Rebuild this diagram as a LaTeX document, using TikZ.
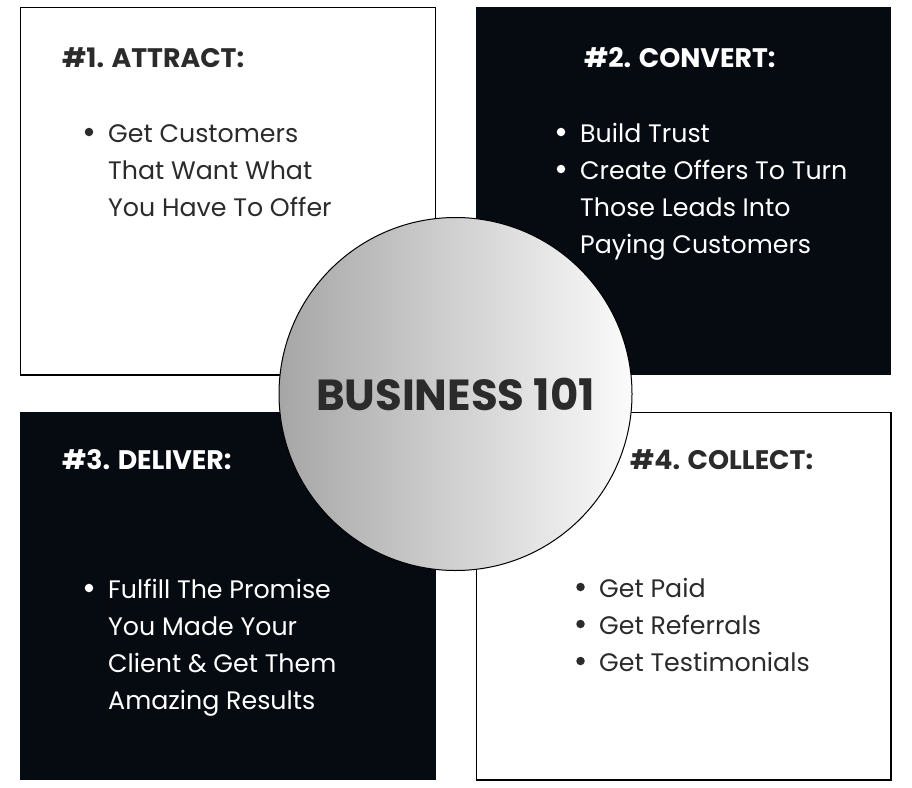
\documentclass[tikz,border=0pt]{standalone}
\usepackage{fontspec}
\setmainfont{Poppins}
\definecolor{ink}{HTML}{060B12}
\definecolor{txt}{HTML}{2B2B2B}
\definecolor{shadeL}{HTML}{A6A6A6}
\definecolor{shadeR}{HTML}{FBFBFB}
\begin{document}
\begin{tikzpicture}[x=1pt,y=-1pt,
  whitebox/.style={draw=black,line width=1.5pt,fill=white},
  blackbox/.style={fill=ink},
  headtxt/.style={anchor=base west,inner sep=0pt,font=\fontsize{26.8}{30}\selectfont\bfseries},
  bodytxt/.style={anchor=base west,inner sep=0pt,font=\fontsize{25.3}{30}\selectfont},
  dotmark/.style={circle,inner sep=0pt,minimum size=8.5pt},
]
\useasboundingbox (0,0) rectangle (912,787);
\fill[white] (0,0) rectangle (912,787);
% boxes
\draw[whitebox] (20.5,7.5) rectangle (435.5,375);
\fill[blackbox] (476,7) rectangle (891,375);
\fill[blackbox] (20,412) rectangle (436,780);
\draw[whitebox] (476.5,412.5) rectangle (891,780);
% box 1
\node[headtxt,text=txt] (h1) at (62,67) {\#1. ATTRACT:};
\node[dotmark,fill=txt] (d1a) at (89,132) {};
\node[bodytxt,text=txt] (t1a) at (108,142) {Get Customers};
\node[bodytxt,text=txt] (t1b) at (108,179) {That Want What};
\node[bodytxt,text=txt] (t1c) at (108,216) {You Have To Offer};
% box 2
\node[headtxt,text=white] (h2) at (584,67) {\#2. CONVERT:};
\node[dotmark,fill=white] (d2a) at (561,132) {};
\node[bodytxt,text=white] (t2a) at (580,142) {Build Trust};
\node[dotmark,fill=white] (d2b) at (561,169) {};
\node[bodytxt,text=white] (t2b) at (580,179) {Create Offers To Turn};
\node[bodytxt,text=white] (t2c) at (580,216) {Those Leads Into};
\node[bodytxt,text=white] (t2d) at (580,253) {Paying Customers};
% box 3
\node[headtxt,text=white] (h3) at (62,469) {\#3. DELIVER:};
\node[dotmark,fill=white] (d3a) at (89,588) {};
\node[bodytxt,text=white] (t3a) at (108,598) {Fulfill The Promise};
\node[bodytxt,text=white] (t3b) at (108,635) {You Made Your};
\node[bodytxt,text=white] (t3c) at (108,672) {Client \& Get Them};
\node[bodytxt,text=white] (t3d) at (108,709) {Amazing Results};
% box 4
\node[headtxt,text=txt] (h4) at (630,469) {\#4. COLLECT:};
\node[dotmark,fill=txt] (d4a) at (580.5,587) {};
\node[bodytxt,text=txt] (t4a) at (599,597) {Get Paid};
\node[dotmark,fill=txt] (d4b) at (580.5,624) {};
\node[bodytxt,text=txt] (t4b) at (599,634) {Get Referrals};
\node[dotmark,fill=txt] (d4c) at (580.5,661) {};
\node[bodytxt,text=txt] (t4c) at (599,671) {Get Testimonials};
% hub
\node[circle,draw=black,line width=1pt,minimum size=353pt,inner sep=0pt,
  left color=shadeL,right color=shadeR] (hub) at (455.5,394) {};
\node[anchor=center,inner sep=0pt,text=txt,font=\fontsize{43.5}{48}\selectfont\bfseries] (title) at (hub.center) {BUSINESS 101};
\end{tikzpicture}
\end{document}
